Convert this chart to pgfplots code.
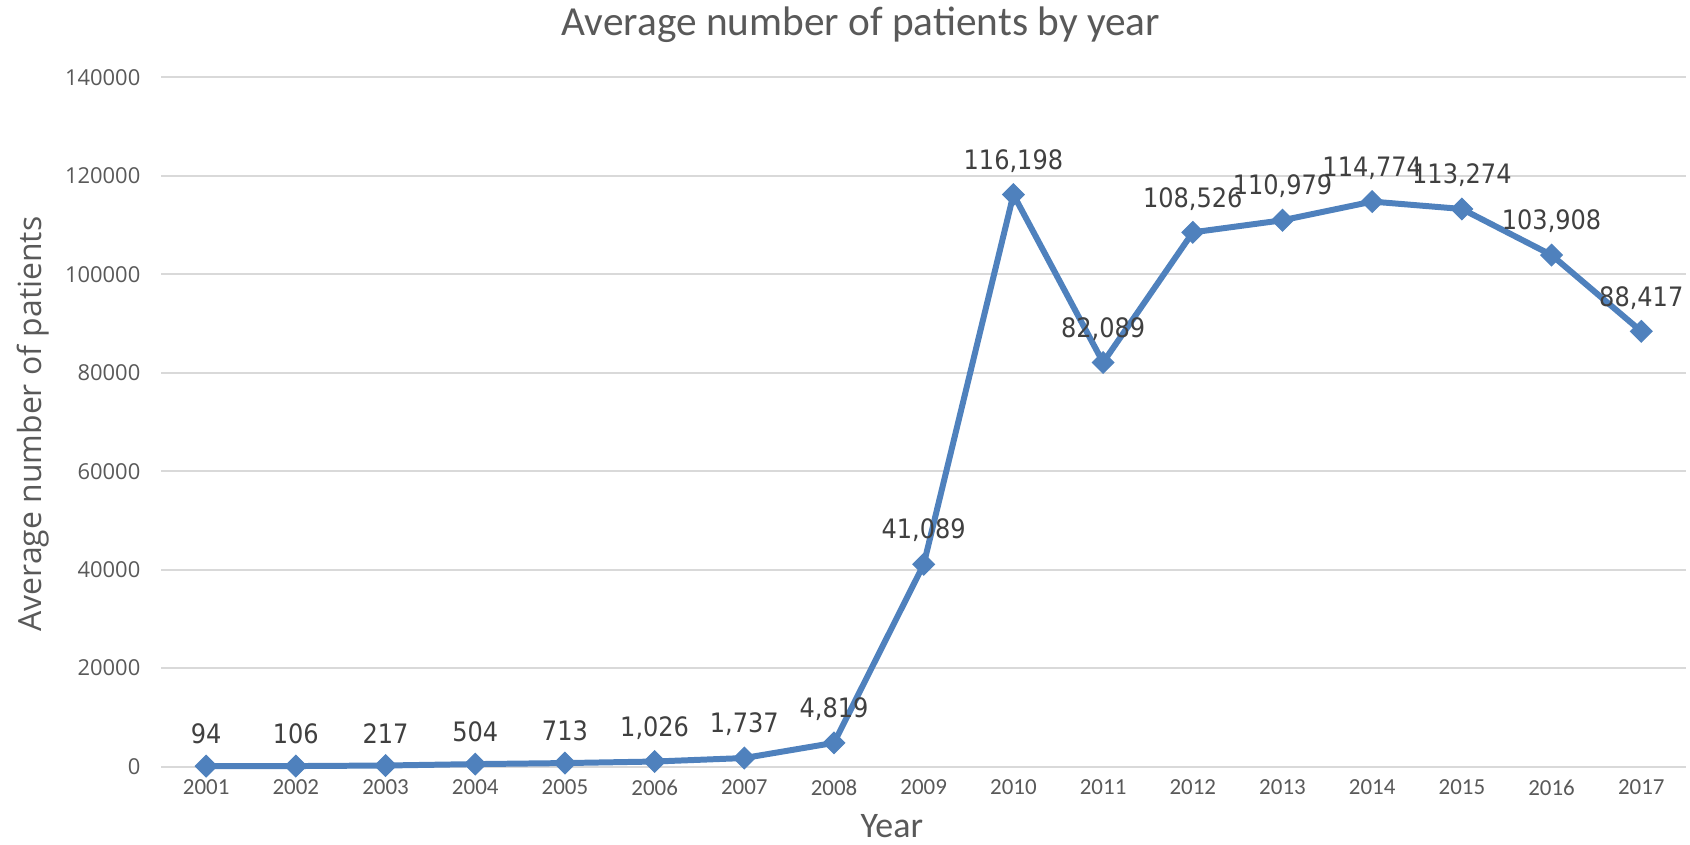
\documentclass[border=0pt]{standalone}
\usepackage{pgfplots}
\pgfplotsset{compat=1.18}
\usepackage{fontspec}
\setmainfont{Carlito}
\newfontfamily\lblfont{DejaVu Sans Condensed}
\newfontfamily\ofont{Open Sans}
\definecolor{lineblue}{HTML}{4F81BD}
\definecolor{txtgray}{HTML}{595959}
\definecolor{lblgray}{HTML}{404040}
\definecolor{gridgray}{HTML}{D9D9D9}
\begin{document}
\begin{tikzpicture}[x=1pt,y=1pt]
\begin{axis}[
  scale only axis,
  width=764.2pt, height=345.4pt,
  at={(0,0)}, anchor=south west,
  xmin=0.5, xmax=17.5,
  ymin=0, ymax=140000,
  xtick={1,...,17},
  xticklabels={2001,2002,2003,2004,2005,2006,2007,2008,2009,2010,2011,2012,2013,2014,2015,2016,2017},
  ytick={0,20000,...,140000},
  scaled y ticks=false,
  yticklabel={\pgfmathprintnumber[fixed,1000 sep={}]{\tick}},
  /pgf/number format/assume math mode=true,
  ymajorgrids, grid style={gridgray, line width=1pt},
  axis line style={draw=none},
  major tick length=0pt,
  tick label style={font=\fontsize{11.5}{13}\selectfont, text=txtgray},
  yticklabel style={font=\ofont\fontsize{11}{13}\selectfont, xshift=-7pt},
  xticklabel style={yshift=-3pt},
  clip=false,
]
\addplot[color=lineblue, line width=3pt, mark=square*, mark size=3.8pt,
  mark options={rotate=45, fill=lineblue, draw=lineblue, line width=0.6pt},
  nodes near coords, point meta=explicit symbolic,
  every node near coord/.append style={font=\lblfont\fontsize{13.4}{15}\selectfont, text=lblgray, anchor=south, yshift=7.5pt}]
  table[meta=lbl] {
x y lbl
1 94 94
2 106 106
3 217 217
4 504 504
5 713 713
6 1026 1,026
7 1737 1,737
8 4819 4,819
9 41089 41,089
10 116198 116,198
11 82089 82,089
12 108526 108,526
13 110979 110,979
14 114774 114,774
15 113274 113,274
16 103908 103,908
17 88417 88,417
};
\node[font=\fontsize{20.7}{24}\selectfont, text=txtgray] at ([xshift=-31.5pt,yshift=26.5pt]rel axis cs:0.5,1) {Average number of patients by year};
\node[font=\fontsize{18}{20}\selectfont, text=txtgray] at ([xshift=-16pt,yshift=-30pt]rel axis cs:0.5,0) {Year};
\node[font=\ofont\fontsize{16}{18}\selectfont, text=txtgray, rotate=90] at ([xshift=-64.5pt,yshift=-1pt]rel axis cs:0,0.5) {Average number of patients};
\end{axis}
\path[use as bounding box] (-80.85pt,-38pt) rectangle (764.15pt,383.5pt);
\end{tikzpicture}
\end{document}
